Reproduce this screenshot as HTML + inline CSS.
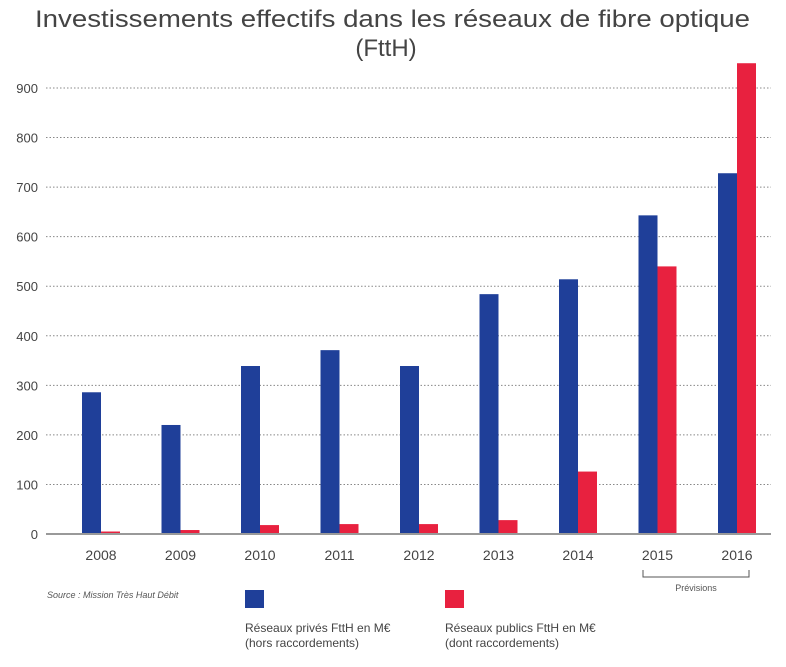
<!DOCTYPE html>
<html><head><meta charset="utf-8"><style>
body{margin:0;background:#fff;width:786px;height:662px;overflow:hidden;font-family:"Liberation Sans",sans-serif}
svg text{font-family:"Liberation Sans",sans-serif}
</style></head><body>
<svg width="786" height="662">
<text x="35" y="27" textLength="715" lengthAdjust="spacingAndGlyphs" font-size="24" fill="#444">Investissements effectifs dans les réseaux de fibre optique</text>
<text x="386" y="56" text-anchor="middle" font-size="24" fill="#444">(FttH)</text>
<g id="grid"></g><g id="bars"></g><g id="axes"></g>
<path d="M643 570 V577 H749 V570" fill="none" stroke="#555" stroke-width="1"/>
<text x="696" y="591" text-anchor="middle" font-size="9" fill="#555">Prévisions</text>
<text x="47" y="598" font-size="9" font-style="italic" fill="#555">Source : Mission Très Haut Débit</text>
<rect x="245" y="590" width="19" height="18" fill="#1f3f99"/>
<text x="245" y="632" font-size="12" fill="#444">Réseaux privés FttH en M€</text>
<text x="245" y="647" font-size="12" fill="#444">(hors raccordements)</text>
<rect x="445" y="590" width="19" height="18" fill="#e8213f"/>
<text x="445" y="632" font-size="12" fill="#444">Réseaux publics FttH en M€</text>
<text x="445" y="647" font-size="12" fill="#444">(dont raccordements)</text>
</svg>
<script>
const categories=["2008","2009","2010","2011","2012","2013","2014","2015","2016"];
const privateValues=[286,220,339,371,339,484,514,643,728];
const publicValues=[5,8,18,20,20,28,126,540,950];
const yTicks=[0,100,200,300,400,500,600,700,800,900];
const NS="http://www.w3.org/2000/svg";
const y0=534,pxPer=(534-88)/900;
function yScale(v){return y0-v*pxPer;}
function xScale(i){return 82+i*79.5;}
const bw=19;
function mk(tag,attrs,parent){const e=document.createElementNS(NS,tag);for(const k in attrs)e.setAttribute(k,attrs[k]);document.getElementById(parent).appendChild(e);return e;}
yTicks.forEach(t=>{
  if(t>0){const l=mk('line',{x1:46,x2:771,y1:yScale(t),y2:yScale(t),stroke:'#888','stroke-dasharray':'1.5,2','stroke-width':1},'grid');
  
  }
  const tx=mk('text',{x:38,y:yScale(t)+5,'text-anchor':'end','font-size':13,fill:'#444'},'axes');
  tx.textContent=t;
  
  
});
const base=mk('line',{x1:46,x2:771,y1:y0,y2:y0,stroke:'#999','stroke-width':2},'axes');


categories.forEach((c,i)=>{
  const x=xScale(i);
  const b=mk('rect',{x:x,y:yScale(privateValues[i]),width:bw,height:privateValues[i]*pxPer,fill:'#1f3f99'},'bars');
  
  
  const r=mk('rect',{x:x+bw,y:yScale(publicValues[i]),width:bw,height:publicValues[i]*pxPer,fill:'#e8213f'},'bars');
  
  
  const t=mk('text',{x:x+bw,y:560,'text-anchor':'middle','font-size':14,fill:'#444'},'axes');
  t.textContent=c;
  
  
});
</script>
</body></html>
